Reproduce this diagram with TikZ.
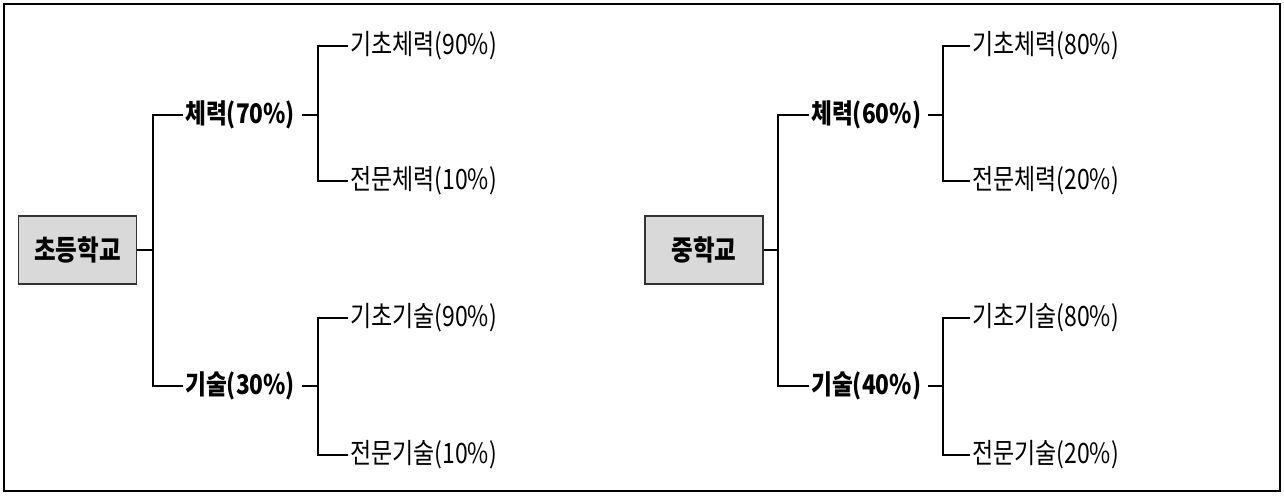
\documentclass[tikz,border=0pt]{standalone}
\usepackage{fontspec}
\usepackage{graphicx}
\setmainfont{Noto Sans CJK KR}
\usetikzlibrary{calc}
\newcommand{\sqa}[1]{\scalebox{0.84}[1]{#1}}
\newcommand{\sqb}[1]{\scalebox{0.82}[1]{#1}}
\tikzset{
  conn/.style={draw=black, line width=1.1pt},
  boxnode/.style={draw=black!80, line width=1.3pt, fill=black!15, minimum width=118pt, minimum height=68pt, inner sep=0pt, font=\fontsize{28}{30}\selectfont\bfseries},
  lvlone/.style={anchor=west, inner sep=0pt, font=\fontsize{27}{30}\selectfont\bfseries},
  lvltwo/.style={anchor=west, inner sep=0pt, font=\fontsize{28}{30}\selectfont},
}
\begin{document}
\begin{tikzpicture}[x=1pt,y=-1pt]
\useasboundingbox (0,0) rectangle (1284,495);
\draw[line width=1.3pt] (4,4) rectangle (1280,491);

% left tree
\node[boxnode] (b1) at (77.5,250) {\sqa{초등학교}};
\coordinate (j1) at (153,250);
\node[lvlone] (a1) at (185,115) {\sqa{체력(70\%)}};
\node[lvlone] (a2) at (185,386) {\sqa{기술(30\%)}};
\coordinate (k1) at (318,115);
\coordinate (k2) at (318,386);
\node[lvltwo] (c1) at (350,46) {\sqb{기초체력(90\%)}};
\node[lvltwo] (c2) at (350,181) {\sqb{전문체력(10\%)}};
\node[lvltwo] (c3) at (350,318) {\sqb{기초기술(90\%)}};
\node[lvltwo] (c4) at (350,455) {\sqb{전문기술(10\%)}};

\draw[conn] (b1.east) -- (j1);
\draw[conn] ([xshift=-2pt]a1.west) -| (j1) |- ([xshift=-2pt]a2.west);
\draw[conn] ([xshift=7pt]a1.east) -- (k1);
\draw[conn] ([xshift=7pt]a2.east) -- (k2);
\draw[conn] ([xshift=-2pt]c1.west) -| (k1) |- ([xshift=-2pt]c2.west);
\draw[conn] ([xshift=-2pt]c3.west) -| (k2) |- ([xshift=-2pt]c4.west);

% right tree
\node[boxnode] (b2) at (704,250) {\sqa{중학교}};
\coordinate (j2) at (778,250);
\node[lvlone] (d1) at (811,115) {\sqa{체력(60\%)}};
\node[lvlone] (d2) at (811,386) {\sqa{기술(40\%)}};
\coordinate (m1) at (943,115);
\coordinate (m2) at (943,386);
\node[lvltwo] (e1) at (972,46) {\sqb{기초체력(80\%)}};
\node[lvltwo] (e2) at (972,181) {\sqb{전문체력(20\%)}};
\node[lvltwo] (e3) at (972,318) {\sqb{기초기술(80\%)}};
\node[lvltwo] (e4) at (972,455) {\sqb{전문기술(20\%)}};

\draw[conn] (b2.east) -- (j2);
\draw[conn] ([xshift=-2pt]d1.west) -| (j2) |- ([xshift=-2pt]d2.west);
\draw[conn] ([xshift=7pt]d1.east) -- (m1);
\draw[conn] ([xshift=7pt]d2.east) -- (m2);
\draw[conn] ([xshift=-2pt]e1.west) -| (m1) |- ([xshift=-2pt]e2.west);
\draw[conn] ([xshift=-2pt]e3.west) -| (m2) |- ([xshift=-2pt]e4.west);
\end{tikzpicture}
\end{document}
